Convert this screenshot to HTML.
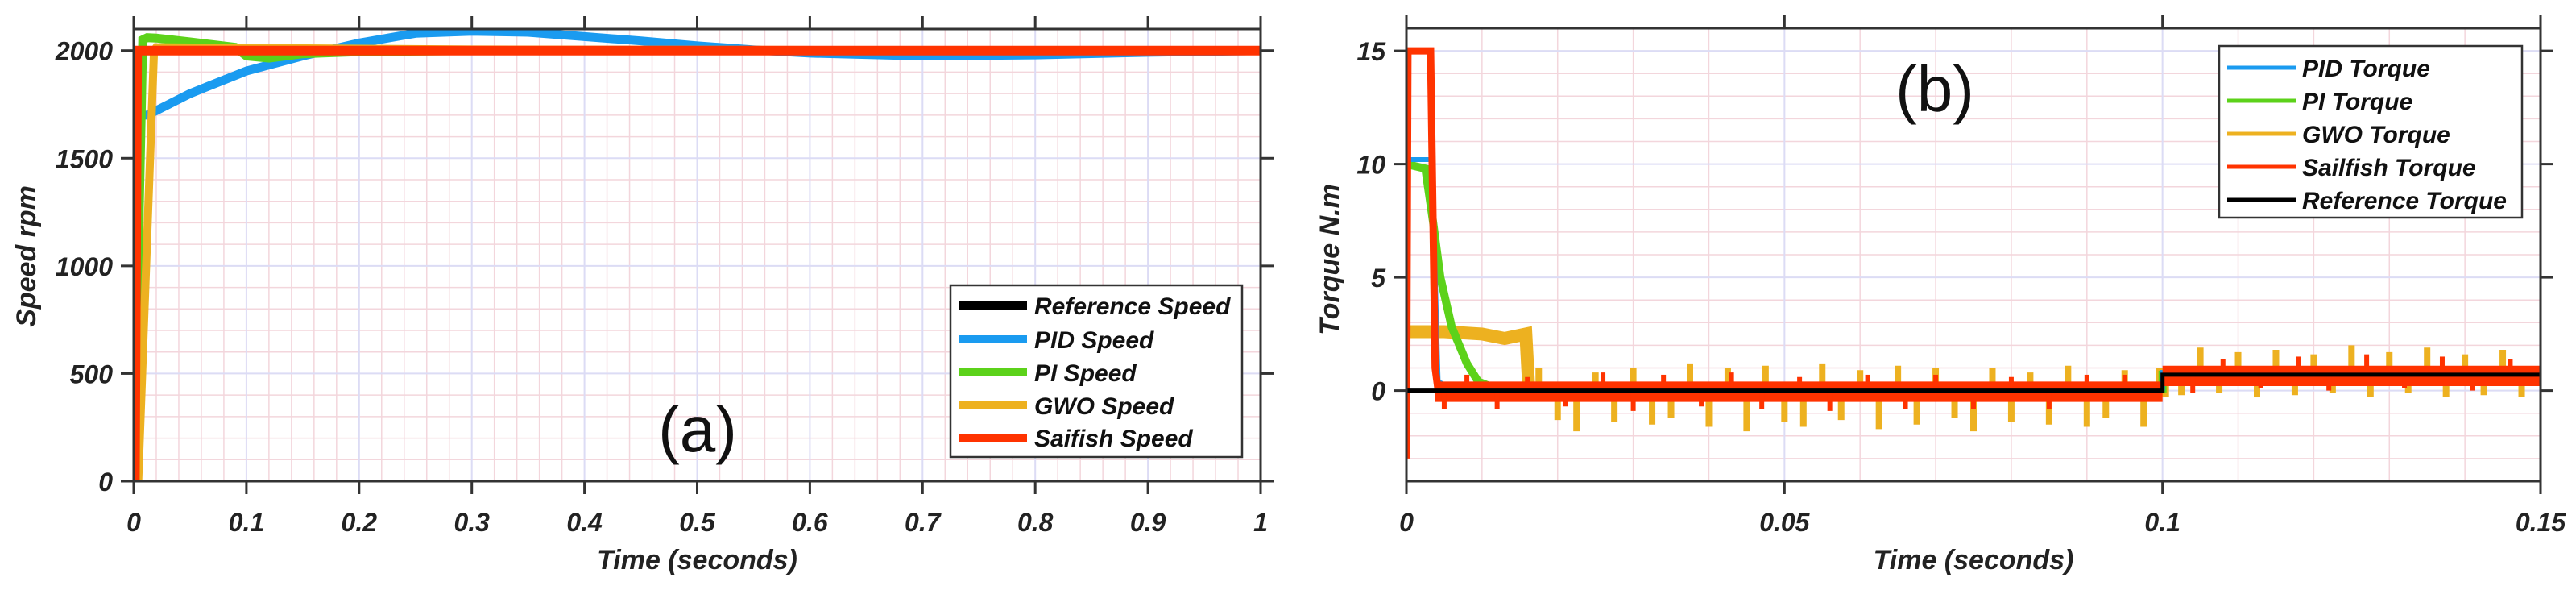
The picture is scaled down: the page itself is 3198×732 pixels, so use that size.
<!DOCTYPE html>
<html><head><meta charset="utf-8"><style>
html,body{margin:0;padding:0;background:#fff;}
svg{display:block;}
text{font-family:"Liberation Sans",Arial,sans-serif;}
</style></head><body>
<svg id="fig" width="3198" height="732" viewBox="0 0 3198 732" xmlns="http://www.w3.org/2000/svg"></svg>
<script>
// ---------- Chart (a) data: speed ----------
const aRefT = [0, 0.0005, 1];
const aRefV = [0, 2000, 2000];
const aPidT = [0, 0.004, 0.012, 0.05, 0.1, 0.15, 0.2, 0.25, 0.3, 0.35, 0.4, 0.45, 0.5, 0.55, 0.6, 0.7, 0.8, 0.9, 1];
const aPidV = [0, 1700, 1700, 1800, 1905, 1975, 2035, 2080, 2090, 2085, 2065, 2045, 2022, 2003, 1988, 1975, 1980, 1992, 2000];
const aPiT = [0, 0.008, 0.012, 0.02, 0.05, 0.09, 0.1, 0.12, 0.15, 0.2, 0.3, 1];
const aPiV = [0, 2050, 2060, 2058, 2040, 2015, 1975, 1965, 1985, 1995, 2000, 2000];
const aGwoT = [0, 0.004, 0.018, 0.02, 0.1, 0.3, 1];
const aGwoV = [0, 0, 2000, 2015, 2012, 2005, 2000];
const aSaiT = [0, 0.001, 0.003, 1];
const aSaiV = [0, 0, 2000, 2000];
const aXTicks = [0, 0.1, 0.2, 0.3, 0.4, 0.5, 0.6, 0.7, 0.8, 0.9, 1];
const aXTickLabels = ["0", "0.1", "0.2", "0.3", "0.4", "0.5", "0.6", "0.7", "0.8", "0.9", "1"];
const aYTicks = [0, 500, 1000, 1500, 2000];
const aYTickLabels = ["0", "500", "1000", "1500", "2000"];

// ---------- Chart (b) data: torque ----------
const bRefT = [0, 0.1, 0.1, 0.15];
const bRefV = [0, 0, 0.7, 0.7];
const bPidT = [0, 0.0034, 0.0042, 0.006, 0.1, 0.1, 0.15];
const bPidV = [10.2, 10.2, 0.4, 0.1, 0.1, 0.8, 0.8];
const bPiT = [0, 0.0025, 0.0035, 0.0045, 0.006, 0.008, 0.0095, 0.011, 0.1, 0.1, 0.15];
const bPiV = [10, 9.8, 7.5, 5, 2.8, 1.2, 0.4, 0.2, 0.1, 0.7, 0.7];
const bGwoT = [0, 0.0003, 0.005, 0.01, 0.013, 0.0158, 0.0162, 0.1, 0.1, 0.15];
const bGwoV = [2.6, 2.6, 2.6, 2.5, 2.3, 2.5, 0, 0, 0.7, 0.7];
const bSaiT = [0, 0.0002, 0.0004, 0.0032, 0.0038, 0.0042];
const bSaiV = [-3, 15, 15, 15, 1, 0];
const bSaiBandT = [0.0038, 0.1, 0.1, 0.15];
const bSaiBandLo = [-0.5, -0.5, 0.2, 0.2];
const bSaiBandHi = [0.4, 0.4, 1.1, 1.1];
const bSaiSpikeT = [0.005,0.008,0.012,0.016,0.021,0.026,0.03,0.034,0.039,0.043,0.047,0.052,0.056,0.061,0.066,0.07,0.075,0.08,0.085,0.09,0.095,0.104,0.108,0.113,0.118,0.122,0.127,0.132,0.137,0.141,0.146];
const bSaiSpikeV = [-0.8,0.7,-0.8,0.6,-0.7,0.8,-0.9,0.7,-0.7,0.8,-0.8,0.6,-0.9,0.7,-0.8,0.7,-0.8,0.6,-0.8,0.7,0.7,-0.8,0.7,-0.6,0.8,-0.7,0.9,-0.6,0.8,-0.7,0.7];
const bGwoSpikeT = [0.0175,0.02,0.0225,0.025,0.0275,0.03,0.0325,0.035,0.0375,0.04,0.0425,0.045,0.0475,0.05,0.0525,0.055,0.0575,0.06,0.0625,0.065,0.0675,0.07,0.0725,0.075,0.0775,0.08,0.0825,0.085,0.0875,0.09,0.0925,0.095,0.0975,0.1025,0.105,0.1075,0.11,0.1125,0.115,0.1175,0.12,0.1225,0.125,0.1275,0.13,0.1325,0.135,0.1375,0.14,0.1425,0.145,0.1475];
const bGwoSpikeV = [1.0,-1.3,-1.8,0.8,-1.4,1.0,-1.5,-1.2,1.2,-1.6,1.0,-1.8,1.1,-1.4,-1.6,1.2,-1.3,0.9,-1.7,1.1,-1.5,1.0,-1.2,-1.8,1.0,-1.4,0.8,-1.5,1.1,-1.6,-1.2,0.9,-1.6,-0.9,1.2,-0.8,1.0,-1.0,1.1,-0.9,0.9,-0.8,1.3,-1.0,1.0,-0.8,1.2,-1.0,0.9,-0.9,1.1,-1.0];
const bXTicks = [0, 0.05, 0.1, 0.15];
const bXTickLabels = ["0", "0.05", "0.1", "0.15"];
const bYTicks = [0, 5, 10, 15];
const bYTickLabels = ["0", "5", "10", "15"];

const NS = "http://www.w3.org/2000/svg";
const svg = document.getElementById("fig");
function mk(tag, attrs, parent) {
  const e = document.createElementNS(NS, tag);
  for (const k in attrs) e.setAttribute(k, attrs[k]);
  (parent || svg).appendChild(e);
  return e;
}

function frame(g, L, T, R, B, xTicks, yTicks, sx, sy, xMinor, yMinor, xmin, xmax, ymin, ymax) {
  for (let v = xmin; v <= xmax + 1e-9; v += xMinor) {
    const l = mk("line", {x1: sx(v), x2: sx(v), y1: T, y2: B, stroke: "#f3d6dc", "stroke-width": 1.5}, g);
    
    
  }
  for (let v = ymin; v <= ymax + 1e-9; v += yMinor) {
    const l = mk("line", {x1: L, x2: R, y1: sy(v), y2: sy(v), stroke: "#f3d6dc", "stroke-width": 1.5}, g);
    
    
  }
  xTicks.forEach(v => {
    const l = mk("line", {x1: sx(v), x2: sx(v), y1: T, y2: B, stroke: "#dcdcf5", "stroke-width": 2}, g);
    
    
  });
  yTicks.forEach(v => {
    const l = mk("line", {x1: L, x2: R, y1: sy(v), y2: sy(v), stroke: "#dcdcf5", "stroke-width": 2}, g);
    
    
  });
}

function axesBox(g, L, T, R, B, xTicks, xLabels, yTicks, yLabels, sx, sy) {
  const box = mk("rect", {x: L, y: T, width: R - L, height: B - T, fill: "none", stroke: "#333", "stroke-width": 3}, g);
  
  
  xTicks.forEach((v, i) => {
    const x = sx(v);
    const t1 = mk("line", {x1: x, x2: x, y1: B, y2: B + 16, stroke: "#333", "stroke-width": 3}, g);
    
    
    const t2 = mk("line", {x1: x, x2: x, y1: T, y2: T - 16, stroke: "#333", "stroke-width": 3}, g);
    
    
    const tx = mk("text", {x: x, y: B + 62, "text-anchor": "middle", "font-size": 32, "font-weight": "bold", "font-style": "italic", fill: "#222"}, g);
    tx.textContent = xLabels[i];
    
    
  });
  yTicks.forEach((v, i) => {
    const y = sy(v);
    const t1 = mk("line", {x1: L - 16, x2: L, y1: y, y2: y, stroke: "#333", "stroke-width": 3}, g);
    
    
    const t2 = mk("line", {x1: R, x2: R + 16, y1: y, y2: y, stroke: "#333", "stroke-width": 3}, g);
    
    
    const tx = mk("text", {x: L - 26, y: y + 12, "text-anchor": "end", "font-size": 32, "font-weight": "bold", "font-style": "italic", fill: "#222"}, g);
    tx.textContent = yLabels[i];
    
    
  });
}

function series(g, T, V, sx, sy, color, w, name) {
  const pts = T.map((t, i) => sx(t).toFixed(1) + "," + sy(V[i]).toFixed(1)).join(" ");
  const p = mk("polyline", {points: pts, fill: "none", stroke: color, "stroke-width": w, "stroke-linejoin": "miter"}, g);
  
  
  return p;
}

const C = {pid: "#1a9bf0", pi: "#5cd21a", gwo: "#edb120", sai: "#ff3300", ref: "#000"};

// ---------- Chart (a) ----------
{
  const L = 166, R = 1565, T = 36, B = 597;
  const sx = v => L + (v - 0) / (1 - 0) * (R - L);
  const sy = v => B - (v - 0) / (2100 - 0) * (B - T);
  const g = mk("g", {});
  
  
  frame(g, L, T, R, B, aXTicks, aYTicks, sx, sy, 0.02, 100, 0, 1, 0, 2100);
  const clip = mk("clipPath", {id: "clipA"}, g);
  mk("rect", {x: L, y: T, width: R - L, height: B - T}, clip);
  const d = mk("g", {"clip-path": "url(#clipA)"}, g);
  
  
  series(d, aRefT, aRefV, sx, sy, C.ref, 10, "reference-speed-line");
  series(d, aPidT, aPidV, sx, sy, C.pid, 11, "pid-speed-line");
  series(d, aPiT, aPiV, sx, sy, C.pi, 11, "pi-speed-line");
  series(d, aGwoT, aGwoV, sx, sy, C.gwo, 10, "gwo-speed-line");
  series(d, aSaiT, aSaiV, sx, sy, C.sai, 12, "saifish-speed-line");
  axesBox(g, L, T, R, B, aXTicks, aXTickLabels, aYTicks, aYTickLabels, sx, sy);
  const xt = mk("text", {x: (L + R) / 2, y: 706, "text-anchor": "middle", "font-size": 34, "font-weight": "bold", "font-style": "italic", fill: "#222"}, g);
  xt.textContent = "Time (seconds)";
  
  
  const yt = mk("text", {x: 0, y: 0, transform: "translate(44,318) rotate(-90)", "text-anchor": "middle", "font-size": 34, "font-weight": "bold", "font-style": "italic", fill: "#222"}, g);
  yt.textContent = "Speed rpm";
  
  
  const lab = mk("text", {x: 866, y: 560, "text-anchor": "middle", "font-size": 80, fill: "#111"}, g);
  lab.textContent = "(a)";
  
  
  const lg = mk("g", {}, g);
  
  
  mk("rect", {x: 1180, y: 354, width: 362, height: 213, fill: "#fff", stroke: "#333", "stroke-width": 2.5}, lg);
  const items = [["Reference Speed", C.ref], ["PID Speed", C.pid], ["PI Speed", C.pi], ["GWO Speed", C.gwo], ["Saifish Speed", C.sai]];
  const ys = [379, 421, 462, 503, 543];
  items.forEach((it, i) => {
    const e = mk("g", {}, lg);
    
    
    mk("line", {x1: 1190, x2: 1275, y1: ys[i], y2: ys[i], stroke: it[1], "stroke-width": 10}, e);
    const t = mk("text", {x: 1284, y: ys[i] + 11, "font-size": 30, "font-weight": "bold", "font-style": "italic", fill: "#111"}, e);
    t.textContent = it[0];
  });
}

// ---------- Chart (b) ----------
{
  const L = 1746, R = 3154, T = 35, B = 597;
  const sx = v => L + (v - 0) / (0.15 - 0) * (R - L);
  const sy = v => B - (v - (-4)) / (16 - (-4)) * (B - T);
  const g = mk("g", {});
  
  
  frame(g, L, T, R, B, bXTicks, bYTicks, sx, sy, 0.01, 1, 0, 0.15, -4, 16);
  const clip = mk("clipPath", {id: "clipB"}, g);
  mk("rect", {x: L, y: T, width: R - L, height: B - T}, clip);
  const d = mk("g", {"clip-path": "url(#clipB)"}, g);
  
  
  const refAt = t => t < 0.1 ? bRefV[0] : bRefV[bRefV.length - 1];
  bGwoSpikeT.forEach((t, i) => {
    const base = refAt(t);
    const s = mk("line", {x1: sx(t), x2: sx(t), y1: sy(base), y2: sy(base + bGwoSpikeV[i]), stroke: C.gwo, "stroke-width": 8}, d);
    
    
  });
  series(d, bGwoT, bGwoV, sx, sy, C.gwo, 16, "gwo-torque-line");
  series(d, bPiT, bPiV, sx, sy, C.pi, 10, "pi-torque-line");
  series(d, bPidT, bPidV, sx, sy, C.pid, 6, "pid-torque-line");
  // sailfish band
  const top = bSaiBandT.map((t, i) => sx(t).toFixed(1) + "," + sy(bSaiBandHi[i]).toFixed(1));
  const bot = bSaiBandT.map((t, i) => sx(t).toFixed(1) + "," + sy(bSaiBandLo[i]).toFixed(1)).reverse();
  const band = mk("polygon", {points: top.concat(bot).join(" "), fill: C.sai}, d);
  
  
  bSaiSpikeT.forEach((t, i) => {
    const base = refAt(t);
    const s = mk("line", {x1: sx(t), x2: sx(t), y1: sy(base), y2: sy(base + bSaiSpikeV[i]), stroke: C.sai, "stroke-width": 6}, d);
    
    
  });
  series(d, bSaiT, bSaiV, sx, sy, C.sai, 9, "sailfish-torque-line");
  series(d, bRefT, bRefV, sx, sy, C.ref, 5, "reference-torque-line");
  axesBox(g, L, T, R, B, bXTicks, bXTickLabels, bYTicks, bYTickLabels, sx, sy);
  const xt = mk("text", {x: (L + R) / 2, y: 706, "text-anchor": "middle", "font-size": 34, "font-weight": "bold", "font-style": "italic", fill: "#222"}, g);
  xt.textContent = "Time (seconds)";
  
  
  const yt = mk("text", {x: 0, y: 0, transform: "translate(1662,322) rotate(-90)", "text-anchor": "middle", "font-size": 34, "font-weight": "bold", "font-style": "italic", fill: "#222"}, g);
  yt.textContent = "Torque N.m";
  
  
  const lab = mk("text", {x: 2402, y: 138, "text-anchor": "middle", "font-size": 80, fill: "#111"}, g);
  lab.textContent = "(b)";
  
  
  const lg = mk("g", {}, g);
  
  
  mk("rect", {x: 2755, y: 57, width: 376, height: 213, fill: "#fff", stroke: "#333", "stroke-width": 2.5}, lg);
  const items = [["PID Torque", C.pid], ["PI Torque", C.pi], ["GWO Torque", C.gwo], ["Sailfish Torque", C.sai], ["Reference Torque", C.ref]];
  const ys = [84, 125, 166, 207, 248];
  items.forEach((it, i) => {
    const e = mk("g", {}, lg);
    
    
    mk("line", {x1: 2765, x2: 2850, y1: ys[i], y2: ys[i], stroke: it[1], "stroke-width": 5}, e);
    const t = mk("text", {x: 2858, y: ys[i] + 11, "font-size": 30, "font-weight": "bold", "font-style": "italic", fill: "#111"}, e);
    t.textContent = it[0];
  });
}
</script>
</body></html>
